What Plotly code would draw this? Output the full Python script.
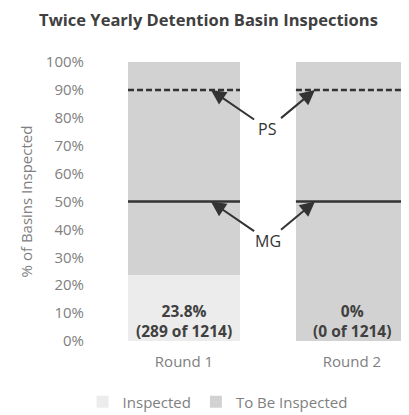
import plotly.graph_objects as go

categories = ["Round 1", "Round 2"]
inspected_pct = [23.8, 0.0]
inspected_count = [289, 0]
total_count = [1214, 1214]
to_be_pct = [76.2, 100.0]
targets = {"PS": 90, "MG": 50}
target_dash = {"PS": "6px,3px", "MG": "solid"}
target_label_y = {"PS": 76, "MG": 36}
y_ticks = list(range(0, 101, 10))

BAR_W = 0.667
FONT = "Open Sans"
GRAY = "#808080"
DARK = "#404040"
H = 407

fig = go.Figure()
fig.add_trace(go.Bar(x=categories, y=inspected_pct, name="Inspected",
                     marker=dict(color="#ececec", line=dict(width=0)), width=BAR_W))
fig.add_trace(go.Bar(x=categories, y=to_be_pct, name="To Be Inspected",
                     marker=dict(color="#d2d2d2", line=dict(width=0)), width=BAR_W))

# target lines across each bar
for name, val in targets.items():
    for i, _ in enumerate(categories):
        fig.add_shape(type="line", xref="x", yref="y",
                      x0=i - BAR_W / 2, x1=i + BAR_W / 2, y0=val, y1=val,
                      line=dict(color="#333333", width=2.5, dash=target_dash[name]))
    heads = [(0.16, val), (1 - 0.22, val)]
    for hx, hy in heads:
        fig.add_annotation(x=hx, y=hy, ax=0.5, ay=target_label_y[name],
                           axref="x", ayref="y", xref="x", yref="y",
                           text="", showarrow=True, arrowhead=2, arrowsize=1.5,
                           arrowwidth=2, arrowcolor="#333333", startstandoff=15)
    fig.add_annotation(x=0.5, y=target_label_y[name], xref="x", yref="y",
                       text=name, showarrow=False,
                       font=dict(family=FONT, size=16, color="#333333"))

# data labels
for i, _ in enumerate(categories):
    pct = inspected_pct[i]
    pct_txt = f"{pct:.1f}%" if pct else "0%"
    fig.add_annotation(x=i, y=7, xref="x", yref="y", showarrow=False,
                       text=f"<b>{pct_txt}<br>({inspected_count[i]} of {total_count[i]})</b>",
                       font=dict(family=FONT, size=15.5, color=DARK))

fig.update_layout(
    barmode="stack",
    width=401, height=H,
    margin=dict(l=82, r=0, t=54, b=74, autoexpand=False),
    paper_bgcolor="white", plot_bgcolor="white",
    title=dict(text="<b>Twice Yearly Detention Basin Inspections</b>",
               x=0.5, xanchor="center", y=1 - 12 / H, yanchor="middle",
               font=dict(family=FONT, size=16.5, color=DARK)),
    showlegend=True,
    legend=dict(orientation="h", x=0.40, xanchor="center",
                yref="container", y=(H - 394) / H, yanchor="middle",
                font=dict(family=FONT, size=15, color=GRAY), itemwidth=30,
                traceorder="normal"),
    font=dict(family=FONT),
)
fig.update_xaxes(range=[-0.56, 1.34], showline=False, ticks="",
                 ticklabelstandoff=10,
                 tickfont=dict(family=FONT, size=15, color=GRAY))
fig.update_yaxes(range=[0, 100], tickvals=y_ticks,
                 ticktext=[f"{v}%" for v in y_ticks], showgrid=False, zeroline=False,
                 ticklabelstandoff=5,
                 tickfont=dict(family=FONT, size=15, color=GRAY),
                 title=dict(text="% of Basins Inspected", standoff=9,
                            font=dict(family=FONT, size=15, color=GRAY)))

fig.write_html("out.html")
